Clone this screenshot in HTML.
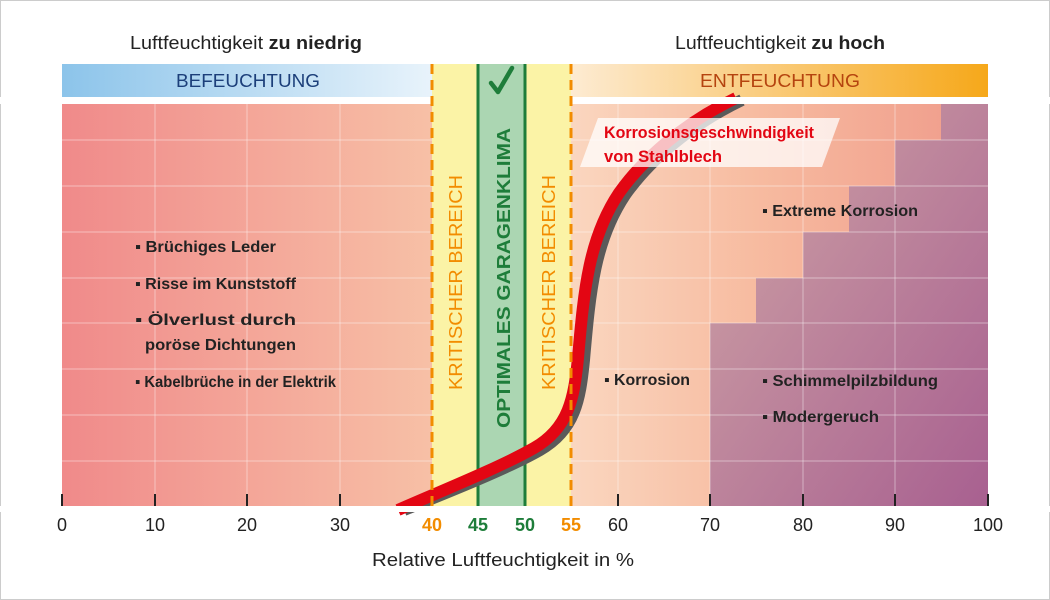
<!DOCTYPE html>
<html><head><meta charset="utf-8"><style>
body{margin:0;background:#fff;}
svg{display:block;font-family:"Liberation Sans",sans-serif;}
.b{font-weight:bold;font-size:16px;fill:#222;}
</style></head><body>
<svg width="1050" height="600" viewBox="0 0 1050 600">
<defs>
<linearGradient id="bg" x1="0" x2="1" y1="0" y2="0">
<stop offset="0" stop-color="#f08a8a"/><stop offset="0.4" stop-color="#f7c0a6"/><stop offset="0.55" stop-color="#fad6bf"/><stop offset="0.75" stop-color="#f7bba0"/><stop offset="1" stop-color="#ef9a8a"/></linearGradient>
<linearGradient id="pu" x1="0" y1="0" x2="1" y2="1">
<stop offset="0" stop-color="#d0a6a6"/><stop offset="1" stop-color="#a86090"/></linearGradient>
<linearGradient id="bl" x1="0" x2="1"><stop offset="0" stop-color="#8cc4ea"/><stop offset="1" stop-color="#e8f3fb"/></linearGradient>
<linearGradient id="or" x1="0" x2="1"><stop offset="0" stop-color="#fdebd2"/><stop offset="1" stop-color="#f6a81a"/></linearGradient>
</defs>
<rect width="1050" height="600" fill="#fff"/>
<rect x="0.5" y="0.5" width="1049" height="599" fill="none" stroke="#ccc"/>
<text x="130" y="49" font-size="18" fill="#222" textLength="232" lengthAdjust="spacingAndGlyphs">Luftfeuchtigkeit <tspan font-weight="bold">zu niedrig</tspan></text>
<text x="675" y="49" font-size="18" fill="#222" textLength="210" lengthAdjust="spacingAndGlyphs">Luftfeuchtigkeit <tspan font-weight="bold">zu hoch</tspan></text>
<rect x="62" y="64" width="370" height="33" fill="url(#bl)"/>
<rect x="571" y="64" width="417" height="33" fill="url(#or)"/>
<text x="176" y="87" font-size="18" fill="#1c3f7a" textLength="144" lengthAdjust="spacingAndGlyphs">BEFEUCHTUNG</text>
<text x="700" y="87" font-size="18" fill="#b5440f" textLength="160" lengthAdjust="spacingAndGlyphs">ENTFEUCHTUNG</text>
<rect x="62" y="104" width="926" height="402" fill="url(#bg)"/>
<path d="M710 506 V323 H756 V278 H803 V232 H849 V186 H895 V140 H941 V104 H988 V506 Z" fill="url(#pu)"/>
<g stroke="#fff" stroke-opacity="0.35" stroke-width="1.2">
<line x1="62" x2="988" y1="140" y2="140"/><line x1="62" x2="988" y1="186" y2="186"/><line x1="62" x2="988" y1="232" y2="232"/><line x1="62" x2="988" y1="278" y2="278"/><line x1="62" x2="988" y1="323" y2="323"/><line x1="62" x2="988" y1="369" y2="369"/><line x1="62" x2="988" y1="415" y2="415"/><line x1="62" x2="988" y1="461" y2="461"/>
<line x1="155" x2="155" y1="104" y2="506"/><line x1="247" x2="247" y1="104" y2="506"/><line x1="340" x2="340" y1="104" y2="506"/><line x1="618" x2="618" y1="104" y2="506"/><line x1="710" x2="710" y1="104" y2="506"/><line x1="803" x2="803" y1="104" y2="506"/><line x1="895" x2="895" y1="104" y2="506"/>
</g>
<rect x="432" y="64" width="139" height="442" fill="#fbf3a6"/>
<rect x="478" y="64" width="47" height="442" fill="#abd6b2"/>
<line x1="478" x2="478" y1="64" y2="506" stroke="#1e7d3a" stroke-width="3"/>
<line x1="525" x2="525" y1="64" y2="506" stroke="#1e7d3a" stroke-width="3"/>
<path d="M491 83 L498 92 L512 68" fill="none" stroke="#1e7d3a" stroke-width="4.5" stroke-linecap="round" stroke-linejoin="round"/>
<path d="M404 510 C440 495 505 470 540 450 C575 430 580 400 584 360 C590 290 595 240 625 195 C650 160 690 125 742 100" fill="none" stroke="#5a5a5a" stroke-width="12"/>
<path d="M398 510 C434 494 499 468 534 448 C569 428 574 398 578 358 C584 288 589 238 619 193 C644 158 684 123 736 98" fill="none" stroke="#e30613" stroke-width="12"/>
<rect x="0" y="97" width="1050" height="7" fill="#fff"/>
<rect x="432" y="97" width="139" height="7" fill="#fbf3a6"/>
<rect x="478" y="97" width="47" height="7" fill="#abd6b2"/>
<line x1="478" x2="478" y1="97" y2="104" stroke="#1e7d3a" stroke-width="3"/>
<line x1="525" x2="525" y1="97" y2="104" stroke="#1e7d3a" stroke-width="3"/>
<rect x="0" y="506" width="1050" height="6" fill="#fff"/>
<line x1="432" x2="432" y1="64" y2="510" stroke="#f28c00" stroke-width="3" stroke-dasharray="10 6"/>
<line x1="571" x2="571" y1="64" y2="510" stroke="#f28c00" stroke-width="3" stroke-dasharray="10 6"/>
<text transform="translate(462,390) rotate(-90)" font-size="18" fill="#f28c00" textLength="215" lengthAdjust="spacingAndGlyphs">KRITISCHER BEREICH</text>
<text transform="translate(555,390) rotate(-90)" font-size="18" fill="#f28c00" textLength="215" lengthAdjust="spacingAndGlyphs">KRITISCHER BEREICH</text>
<text transform="translate(510,428) rotate(-90)" font-size="18" font-weight="bold" fill="#1e7d3a" textLength="300" lengthAdjust="spacingAndGlyphs">OPTIMALES GARAGENKLIMA</text>
<polygon points="598,118 840,118 822,167 580,167" fill="#fff" fill-opacity="0.75"/>
<text x="604" y="138" font-size="17" font-weight="bold" fill="#e30613" textLength="210" lengthAdjust="spacingAndGlyphs">Korrosionsgeschwindigkeit</text>
<text x="604" y="162" font-size="17" font-weight="bold" fill="#e30613" textLength="118" lengthAdjust="spacingAndGlyphs">von Stahlblech</text>
<text x="135" y="252" class="b" textLength="141" lengthAdjust="spacingAndGlyphs">▪ Brüchiges Leder</text>
<text x="135" y="289" class="b" textLength="161" lengthAdjust="spacingAndGlyphs">▪ Risse im Kunststoff</text>
<text x="135" y="325" class="b" textLength="161" lengthAdjust="spacingAndGlyphs">▪ Ölverlust durch</text>
<text x="145" y="350" class="b" textLength="151" lengthAdjust="spacingAndGlyphs">poröse Dichtungen</text>
<text x="135" y="387" class="b" textLength="201" lengthAdjust="spacingAndGlyphs">▪ Kabelbrüche in der Elektrik</text>
<text x="604" y="385" class="b" textLength="86" lengthAdjust="spacingAndGlyphs">▪ Korrosion</text>
<text x="762" y="216" class="b" textLength="156" lengthAdjust="spacingAndGlyphs">▪ Extreme Korrosion</text>
<text x="762" y="386" class="b" textLength="176" lengthAdjust="spacingAndGlyphs">▪ Schimmelpilzbildung</text>
<text x="762" y="422" class="b" textLength="117" lengthAdjust="spacingAndGlyphs">▪ Modergeruch</text>
<g stroke="#222" stroke-width="2">
<line x1="62" x2="62" y1="494" y2="506"/><line x1="155" x2="155" y1="494" y2="506"/><line x1="247" x2="247" y1="494" y2="506"/><line x1="340" x2="340" y1="494" y2="506"/><line x1="618" x2="618" y1="494" y2="506"/><line x1="710" x2="710" y1="494" y2="506"/><line x1="803" x2="803" y1="494" y2="506"/><line x1="895" x2="895" y1="494" y2="506"/><line x1="988" x2="988" y1="494" y2="506"/>
</g>
<g font-size="18" text-anchor="middle" fill="#222">
<text x="62" y="531">0</text><text x="155" y="531">10</text><text x="247" y="531">20</text><text x="340" y="531">30</text>
<text x="432" y="531" fill="#f28c00" font-weight="bold">40</text><text x="478" y="531" fill="#1e7d3a" font-weight="bold">45</text>
<text x="525" y="531" fill="#1e7d3a" font-weight="bold">50</text><text x="571" y="531" fill="#f28c00" font-weight="bold">55</text>
<text x="618" y="531">60</text><text x="710" y="531">70</text><text x="803" y="531">80</text><text x="895" y="531">90</text><text x="988" y="531">100</text>
</g>
<text x="372" y="566" font-size="18" fill="#222" textLength="262" lengthAdjust="spacingAndGlyphs">Relative Luftfeuchtigkeit in %</text>
</svg>
</body></html>
